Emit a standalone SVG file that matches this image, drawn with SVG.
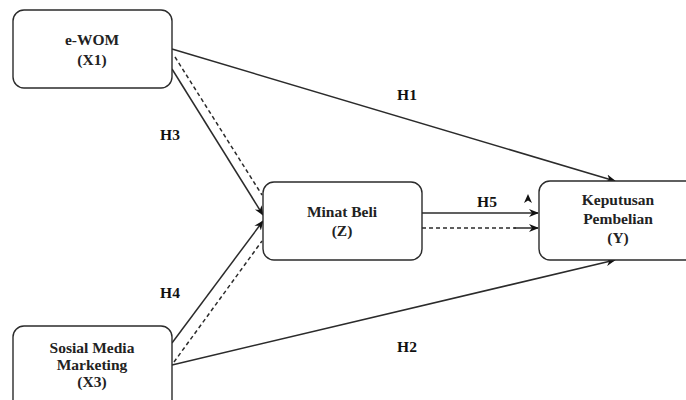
<svg xmlns="http://www.w3.org/2000/svg" width="686" height="400" viewBox="0 0 686 400">
  <style>
    .box { fill: #ffffff; stroke: #2b2b2b; stroke-width: 1.4; }
    .lbl { font-family: "Liberation Serif", "Times New Roman", serif; font-size: 15.5px; font-weight: bold; fill: #222; text-anchor: middle; }
    .hyp { font-family: "Liberation Serif", "Times New Roman", serif; font-size: 15.5px; font-weight: bold; fill: #111; text-anchor: middle; }
    .edge { fill: none; stroke: #2b2b2b; stroke-width: 1.5; }
    .dash { stroke-dasharray: 4 3; }
  </style>
  <defs>
    <marker id="arrow" viewBox="0 0 10 10" refX="9" refY="5" markerWidth="10" markerHeight="10" markerUnits="userSpaceOnUse" orient="auto">
      <path d="M0,1 L10,5 L0,9 L3,5 Z" fill="#111"/>
    </marker>
  </defs>
  <rect width="686" height="400" fill="#ffffff"/>

  <g id="connectors">
    <!-- H1: e-WOM -> Keputusan Pembelian -->
    <line class="edge" x1="172" y1="49" x2="615" y2="181" marker-end="url(#arrow)"/>
    <!-- H2: Sosial Media Marketing -> Keputusan Pembelian -->
    <line class="edge" x1="172" y1="365" x2="615" y2="260" marker-end="url(#arrow)"/>
    <!-- H3: e-WOM -> Minat Beli -->
    <line class="edge" x1="172" y1="69" x2="263" y2="215" marker-end="url(#arrow)"/>
    <line class="edge dash" x1="175" y1="57" x2="262" y2="195"/>
    <!-- H4: Sosial Media Marketing -> Minat Beli -->
    <line class="edge" x1="172" y1="343" x2="263" y2="221" marker-end="url(#arrow)"/>
    <line class="edge dash" x1="174" y1="362" x2="262" y2="241"/>
    <!-- H5: Minat Beli -> Keputusan Pembelian -->
    <line class="edge" x1="422" y1="213" x2="538" y2="213" marker-end="url(#arrow)"/>
    <line class="edge dash" x1="422" y1="228" x2="516" y2="228"/>
    <line class="edge" x1="514" y1="228" x2="538" y2="228" marker-end="url(#arrow)"/>
    <!-- loose arrowhead above H5 -->
    <path d="M528,194 L532,203 L528,200.5 L524,203 Z" fill="#111"/>
  </g>

  <g id="node-x1">
    <rect class="box" x="13" y="10" width="159" height="78" rx="11"/>
    <text class="lbl" x="92" y="45">e-WOM</text>
    <text class="lbl" x="92" y="65">(X1)</text>
  </g>

  <g id="node-z">
    <rect class="box" x="263" y="182" width="159" height="78" rx="11"/>
    <text class="lbl" x="342" y="217">Minat Beli</text>
    <text class="lbl" x="342" y="236">(Z)</text>
  </g>

  <g id="node-y">
    <rect class="box" x="539" y="181" width="170" height="79" rx="11"/>
    <text class="lbl" x="618" y="205">Keputusan</text>
    <text class="lbl" x="618" y="224">Pembelian</text>
    <text class="lbl" x="618" y="243">(Y)</text>
  </g>

  <g id="node-x3">
    <rect class="box" x="13" y="326" width="159" height="90" rx="11"/>
    <text class="lbl" x="92" y="353">Sosial Media</text>
    <text class="lbl" x="92" y="370">Marketing</text>
    <text class="lbl" x="92" y="387">(X3)</text>
  </g>

  <g id="labels">
    <text class="hyp" x="407" y="100">H1</text>
    <text class="hyp" x="407" y="352">H2</text>
    <text class="hyp" x="170" y="140">H3</text>
    <text class="hyp" x="170" y="298">H4</text>
    <text class="hyp" x="487" y="207">H5</text>
  </g>
</svg>
